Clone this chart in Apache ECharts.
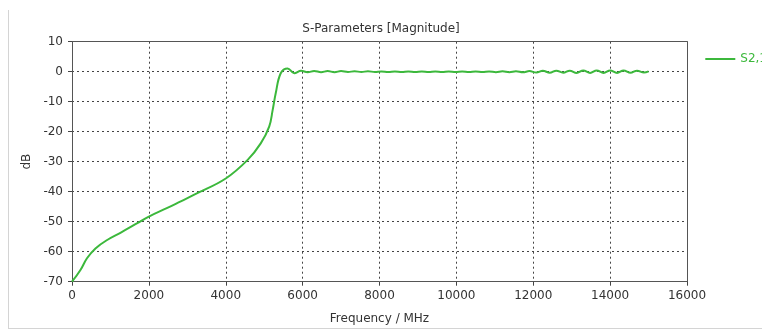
<!DOCTYPE html>
<html>
<head>
<meta charset="utf-8">
<script src="https://cdn.jsdelivr.net/npm/echarts@6/dist/echarts.min.js"></script>
<style>
	html, body { margin: 0; padding: 0; background: #fff; }
	.frame {
		position: absolute;
		left: 8px;
		top: 10px;
		width: 760px;
		height: 318px;
		border-left: 1px solid #d4d4d4;
		border-bottom: 1px solid #d4d4d4;
	}
	#chart { position: absolute; left: 0; top: 0; width: 762px; height: 330px; }
</style>
</head>
<body>
<div class="frame"></div>
<div id="chart"></div>
<script>
// S2,1 magnitude, [MHz, dB]
var riseFreq = [0, 220, 390, 610, 915, 1260, 1700, 2000, 2480, 2830, 3260, 4000, 4570, 4910, 5130, 5220, 5300, 5430, 5610, 5780, 5960];
var riseDb   = [-70, -66.1, -62.2, -58.9, -56.1, -53.7, -50.5, -48.3, -45.4, -43.2, -40.5, -35.6, -29.4, -23.9, -18.3, -12.8, -7.2, -0.5, 1.1, -0.5, 0.3];

// ripple on the flat part, roughly 350 MHz period
var flatFreq = [6130, 6300, 6480, 6650, 6830, 7000, 7180, 7350, 7530, 7700, 7880, 8050, 8230, 8400, 8580, 8750, 8930, 9100, 9280, 9450,
                9630, 9800, 9980, 10150, 10330, 10500, 10680, 10850, 11030, 11200, 11380, 11550, 11730, 11900, 12080, 12250, 12430, 12600,
                12780, 12950, 13130, 13300, 13480, 13650, 13830, 14000, 14180, 14350, 14530, 14700, 14880, 15000];
var flatDb   = [-0.2, 0.25, -0.15, 0.2, -0.15, 0.2, -0.1, 0.15, -0.1, 0.15, -0.1, 0.1, -0.1, 0.1, -0.1, 0.1, -0.1, 0.1, -0.1, 0.1,
                -0.1, 0.1, -0.1, 0.1, -0.1, 0.1, -0.1, 0.1, -0.15, 0.15, -0.15, 0.15, -0.2, 0.2, -0.3, 0.3, -0.35, 0.35,
                -0.35, 0.35, -0.4, 0.4, -0.4, 0.4, -0.4, 0.4, -0.4, 0.4, -0.35, 0.35, -0.3, 0.1];

var seriesName = 'S2,1';
var fontName = 'DejaVu Sans';

var s21 = riseFreq.map(function (f, i) { return [f, riseDb[i]]; })
	.concat(flatFreq.map(function (f, i) { return [f, flatDb[i]]; }));

var gridLine = { show: true, lineStyle: { type: [2, 3], color: '#444' } };
var boxLine = { show: true, onZero: false, lineStyle: { color: '#555' } };

var chart = echarts.init(document.getElementById('chart'), null, { renderer: 'canvas' });
chart.setOption({
	animation: false,
	title: {
		text: 'S-Parameters [Magnitude]',
		left: 'center',
		top: 18,
		textStyle: { fontFamily: fontName, fontSize: 12, fontWeight: 'normal', color: '#333' }
	},
	legend: {
		data: [seriesName],
		right: -10,
		top: 48,
		itemWidth: 30,
		itemHeight: 2,
		itemGap: 6,
		icon: 'rect',
		textStyle: { fontFamily: fontName, fontSize: 12, color: '#3cb83c' }
	},
	grid: { left: 72, right: 75, top: 41.7, bottom: 48.3 },
	xAxis: [{
		type: 'value',
		min: 0,
		max: 16000,
		interval: 2000,
		name: 'Frequency / MHz',
		nameLocation: 'middle',
		nameGap: 31,
		nameTextStyle: { fontFamily: fontName, fontSize: 12, color: '#333' },
		axisLine: boxLine,
		axisTick: { show: true, length: 4, lineStyle: { color: '#444' } },
		axisLabel: { fontFamily: fontName, fontSize: 12, color: '#333', margin: 8,
			formatter: function (v) { return String(v); } },
		splitLine: gridLine
	}, {
		// top edge of the box
		type: 'value', position: 'top', min: 0, max: 16000,
		axisLine: boxLine, axisTick: { show: false }, axisLabel: { show: false }, splitLine: { show: false }
	}],
	yAxis: [{
		type: 'value',
		min: -70,
		max: 10,
		interval: 10,
		name: 'dB',
		nameLocation: 'middle',
		nameGap: 38,
		nameRotate: 90,
		nameTextStyle: { fontFamily: fontName, fontSize: 12, color: '#333' },
		axisLine: boxLine,
		axisTick: { show: true, length: 4, lineStyle: { color: '#444' } },
		axisLabel: { fontFamily: fontName, fontSize: 12, color: '#333', margin: 9 },
		splitLine: gridLine
	}, {
		// right edge of the box
		type: 'value', position: 'right', min: -70, max: 10,
		axisLine: boxLine, axisTick: { show: false }, axisLabel: { show: false }, splitLine: { show: false }
	}],
	series: [{
		name: seriesName,
		type: 'line',
		smooth: 0.4,
		symbol: 'none',
		lineStyle: { color: '#3cb83c', width: 2 },
		itemStyle: { color: '#3cb83c' },
		data: s21
	}]
});
</script>
</body>
</html>
